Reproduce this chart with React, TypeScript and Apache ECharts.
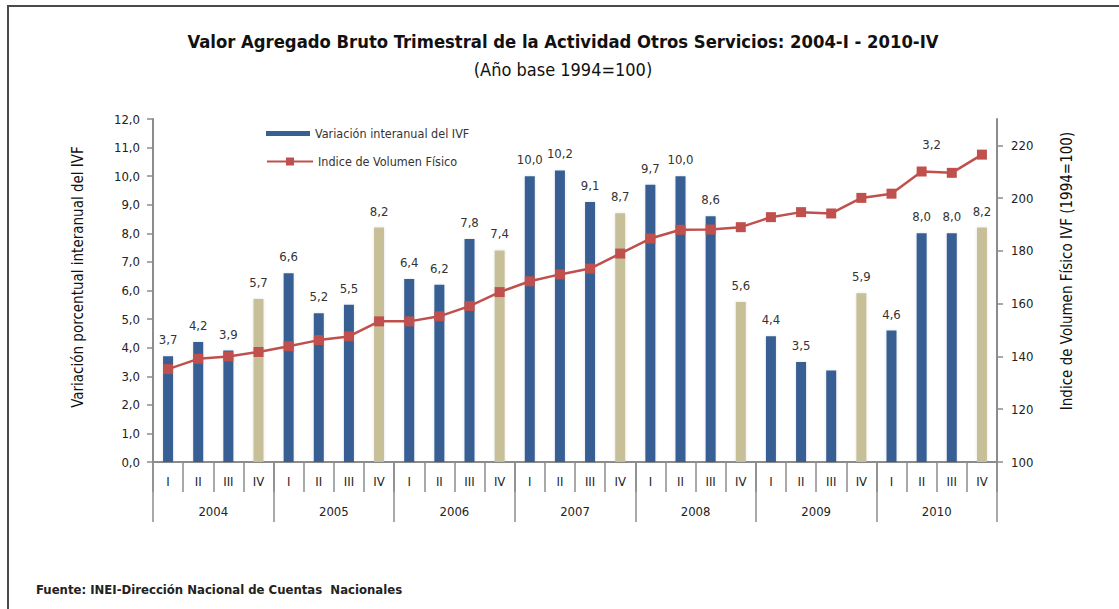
import React, { useEffect, useRef } from "react";
import * as echarts from "echarts";

const quarters = [
  "I","II","III","IV","I","II","III","IV","I","II","III","IV","I","II","III","IV",
  "I","II","III","IV","I","II","III","IV","I","II","III","IV",
];
const years = ["2004", "2005", "2006", "2007", "2008", "2009", "2010"];
const variacion = [
  3.7, 4.2, 3.9, 5.7, 6.6, 5.2, 5.5, 8.2, 6.4, 6.2, 7.8, 7.4, 10.0, 10.2, 9.1, 8.7,
  9.7, 10.0, 8.6, 5.6, 4.4, 3.5, 3.2, 5.9, 4.6, 8.0, 8.0, 8.2,
];
const ivf = [
  135.2, 139.1, 140.0, 141.7, 143.9, 146.2, 147.6, 153.3, 153.3, 155.2, 159.1, 164.4,
  168.5, 171.1, 173.3, 179.0, 184.7, 188.0, 188.1, 189.0, 192.8, 194.7, 194.2, 200.1,
  201.7, 210.1, 209.6, 216.5,
];
const leftTicks = [0, 1, 2, 3, 4, 5, 6, 7, 8, 9, 10, 11, 12];
const rightTicks = [100, 120, 140, 160, 180, 200, 220];
// In the source, the label of bar 2009-III is shown above the index line at 2010-II
const hiddenBarLabelIndex = 22;
const displacedLabelIndex = 25;

const FONT = "'Liberation Sans Narrow', 'DejaVu Sans Condensed', 'Roboto', sans-serif";
const BLUE = "#375F93";
const TAN = "#C6BF98";
const RED = "#C0504D";
const AXIS = "#8C8C8C";

const fmt = (v: number) => v.toFixed(1).replace(".", ",");

export default function App() {
  const ref = useRef<HTMLDivElement>(null);
  useEffect(() => {
    if (!ref.current) return;
    const chart = echarts.init(ref.current, undefined, { renderer: "svg" });
    const barData = variacion.map((v, i) =>
      i === hiddenBarLabelIndex ? { value: v, label: { show: false } } : v
    );
    const lineData = ivf.map((v, i) =>
      i === displacedLabelIndex
        ? {
            value: v,
            label: {
              show: true,
              position: "top",
              distance: 16,
              offset: [10, 0],
              formatter: () => fmt(variacion[hiddenBarLabelIndex]),
              color: "#333",
              fontSize: 13,
              fontFamily: FONT,
            },
          }
        : v
    );
    chart.setOption({
      animation: false,
      backgroundColor: "#fff",
      textStyle: { fontFamily: FONT },
      graphic: [
        {
          type: "rect",
          shape: { x: 8, y: 6, width: 1300, height: 800 },
          style: { fill: "none", stroke: "#4a4a4a", lineWidth: 2 },
          silent: true,
        },
        {
          type: "text",
          x: 78,
          y: 277,
          rotation: Math.PI / 2,
          style: {
            text: "Variación porcentual interanual del IVF",
            align: "center",
            verticalAlign: "middle",
            font: "15px " + FONT,
            fill: "#111",
          },
          silent: true,
        },
        {
          type: "text",
          x: 1067,
          y: 271,
          rotation: Math.PI / 2,
          style: {
            text: "Indice de Volumen Físico IVF (1994=100)",
            align: "center",
            verticalAlign: "middle",
            font: "15px " + FONT,
            fill: "#111",
          },
          silent: true,
        },
      ],
      title: [
        {
          text: "Valor Agregado Bruto Trimestral de la Actividad Otros Servicios: 2004-I - 2010-IV",
          left: 558,
          top: 27,
          textAlign: "center",
          textStyle: { fontFamily: FONT, fontSize: 18.3, fontWeight: "bold", color: "#111" },
        },
        {
          text: "(Año base 1994=100)",
          left: 558,
          top: 55,
          textAlign: "center",
          textStyle: { fontFamily: FONT, fontSize: 18, fontWeight: "normal", color: "#111" },
        },
        {
          text: "Fuente: INEI-Dirección Nacional de Cuentas  Nacionales",
          left: 31,
          top: 578,
          textStyle: { fontFamily: FONT, fontSize: 13, fontWeight: "bold", color: "#222" },
        },
      ],
      legend: [
        {
          data: [{ name: "Variación interanual del IVF", itemStyle: { color: BLUE } }],
          left: 261,
          top: 122,
          itemWidth: 44,
          itemHeight: 5,
          icon: "rect",
          textStyle: { fontFamily: FONT, fontSize: 12.5, color: "#333" },
        },
        {
          data: ["Indice de Volumen Físico"],
          left: 261,
          top: 150,
          itemWidth: 46,
          itemHeight: 10,
          textStyle: { fontFamily: FONT, fontSize: 12.5, color: "#333" },
        },
      ],
      grid: { left: 153, right: 122, top: 119, bottom: 147 },
      xAxis: [
        {
          type: "category",
          data: quarters,
          position: "bottom",
          offset: 0,
          axisLine: { show: true, lineStyle: { color: AXIS, width: 2 } },
          axisTick: { show: true, interval: 0, length: 30, lineStyle: { color: AXIS, width: 1.5 } },
          axisLabel: { interval: 0, margin: 13, fontSize: 13, color: "#222", fontFamily: FONT },
        },
        {
          type: "category",
          data: years,
          position: "bottom",
          offset: 0,
          axisLine: { show: false },
          axisTick: { show: true, interval: 0, length: 60, lineStyle: { color: AXIS, width: 1.5 } },
          axisLabel: { interval: 0, margin: 43, fontSize: 13, color: "#222", fontFamily: FONT },
        },
      ],
      yAxis: [
        {
          type: "value",
          min: 0,
          max: 12,
          interval: 1,
          position: "left",
          axisLine: { show: true, lineStyle: { color: AXIS, width: 2 } },
          axisTick: { show: true, length: 6, lineStyle: { color: AXIS, width: 1.5 } },
          axisLabel: { formatter: (v: number) => fmt(v), margin: 13, fontSize: 13, color: "#222", fontFamily: FONT, customValues: leftTicks },
          splitLine: { show: false },
        },
        {
          type: "value",
          min: 100,
          max: 230,
          interval: 20,
          position: "right",
          axisLine: { show: true, lineStyle: { color: AXIS, width: 2 } },
          axisTick: { show: true, length: 6, lineStyle: { color: AXIS, width: 1.5 }, customValues: rightTicks },
          axisLabel: { margin: 14, fontSize: 13, color: "#222", fontFamily: FONT, customValues: rightTicks },
          splitLine: { show: false },
        },
      ],
      series: [
        {
          name: "Variación interanual del IVF",
          type: "bar",
          xAxisIndex: 0,
          yAxisIndex: 0,
          barWidth: 10,
          data: barData,
          itemStyle: {
            color: (p: any) => (quarters[p.dataIndex] === "IV" ? TAN : BLUE),
            shadowColor: "rgba(0,0,0,0.12)",
            shadowBlur: 3,
          },
          label: {
            show: true,
            position: "top",
            distance: 10,
            formatter: (p: any) => fmt(p.value),
            fontSize: 13,
            color: "#333",
            fontFamily: FONT,
          },
          z: 2,
        },
        {
          name: "Indice de Volumen Físico",
          type: "line",
          xAxisIndex: 0,
          yAxisIndex: 1,
          data: lineData,
          symbol: "rect",
          symbolSize: 10,
          lineStyle: { color: RED, width: 2.5 },
          itemStyle: { color: RED },
          z: 3,
        },
      ],
    });
    return () => chart.dispose();
  }, []);
  return (
    <div
      ref={ref}
      style={{ position: "fixed", left: 0, top: 0, width: 1119, height: 609 }}
    />
  );
}
